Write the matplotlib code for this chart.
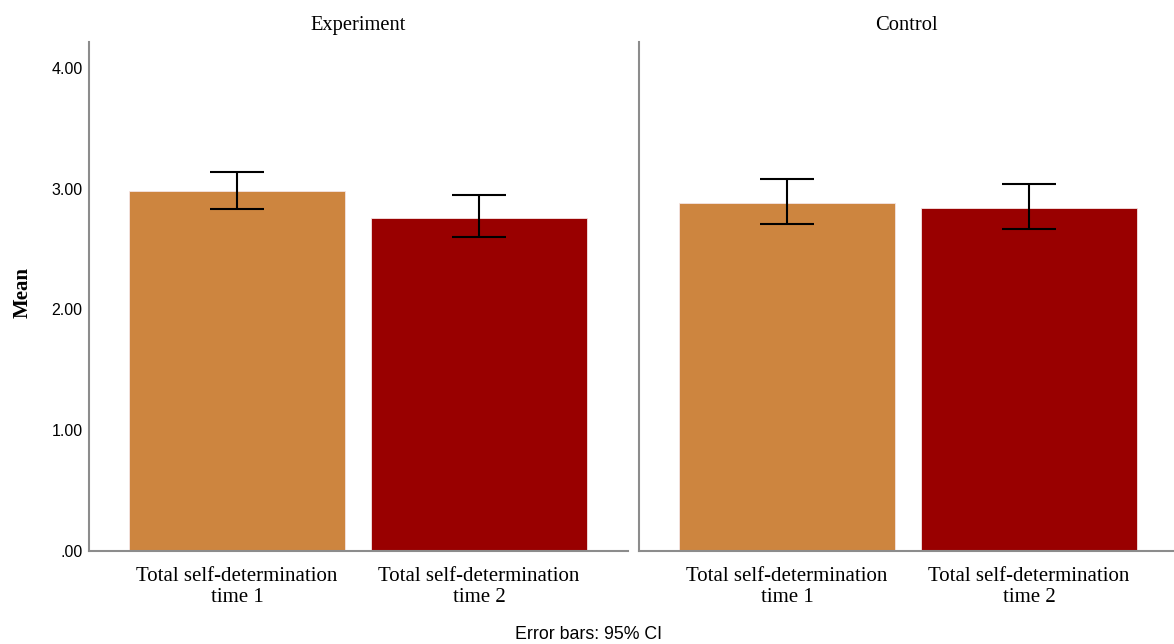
import numpy as np
import matplotlib.pyplot as plt

groups = ["Experiment", "Control"]
measures = ["Total self-determination\ntime 1", "Total self-determination\ntime 2"]
means = {"Experiment": [2.98, 2.76], "Control": [2.88, 2.84]}
ci_low = {"Experiment": [2.83, 2.60], "Control": [2.71, 2.67]}
ci_high = {"Experiment": [3.14, 2.95], "Control": [3.08, 3.04]}
bar_colors = ["#CD853F", "#990000"]
y_ticks = [0, 1, 2, 3, 4]
y_ticklabels = [".00", "1.00", "2.00", "3.00", "4.00"]

serif = "Liberation Serif"
sans = "Liberation Sans"
axis_grey = "#8c8c8c"

fig = plt.figure(figsize=(11.74, 6.44), dpi=100)
ax_left = fig.add_axes([0.0758, 0.1444, 0.4591, 0.7904])
ax_right = fig.add_axes([0.5443, 0.1444, 0.4557, 0.7904])

for ax, group, xmax in [(ax_left, "Experiment", 1.616), (ax_right, "Control", 1.599)]:
    x = np.arange(len(measures))
    m = np.array(means[group])
    lo = m - np.array(ci_low[group])
    hi = np.array(ci_high[group]) - m
    ax.bar(x, m, width=0.893, color=bar_colors, edgecolor="#f4e4e4", linewidth=0.6, zorder=2)
    ax.errorbar(x, m, yerr=[lo, hi], fmt="none", ecolor="black", elinewidth=1.5,
                capsize=19.4, capthick=1.5, zorder=3)
    ax.set_xlim(-0.6116, xmax)
    ax.set_ylim(0, 4.215)
    ax.set_xticks(x)
    ax.set_xticklabels(measures, fontfamily=serif, fontsize=15, linespacing=1.12)
    ax.tick_params(axis="both", length=0)
    ax.tick_params(axis="x", pad=11.5)
    ax.set_title(group, fontfamily=serif, fontsize=14.8, pad=8.5)
    for side in ["top", "right"]:
        ax.spines[side].set_visible(False)
    for side in ["left", "bottom"]:
        ax.spines[side].set_color(axis_grey)
        ax.spines[side].set_linewidth(1.5)
    ax.set_facecolor("white")

ax_left.set_yticks(y_ticks)
ax_left.set_yticklabels(y_ticklabels, fontfamily=sans, fontsize=11.5)
ax_left.tick_params(axis="y", pad=4.5)
ax_left.set_ylabel("Mean", fontfamily=serif, fontsize=15, fontweight="bold")
ax_left.yaxis.set_label_coords(-0.105, 0.507)
ax_right.set_yticks([])

fig.text(0.501, 0.002, "Error bars: 95% CI", fontfamily=sans, fontsize=12.8, ha="center", va="bottom")

fig.savefig("out.png", dpi=100)
